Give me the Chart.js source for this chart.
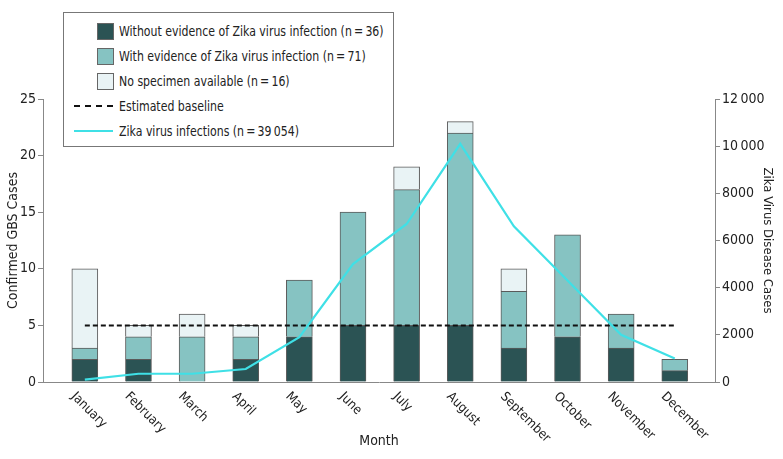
<!DOCTYPE html>
<html>
<head>
<meta charset="utf-8">
<script src="https://cdn.jsdelivr.net/npm/chart.js@4/dist/chart.umd.min.js"></script>
<style>
  body { margin: 0; background: #fff; }
  #wrap { position: relative; width: 783px; height: 459px; }
  #legend {
    position: absolute; left: 63px; top: 12px; width: 329px; height: 133px;
    border: 1px solid #777; background: #fff;
    font-family: "Liberation Sans Narrow", "DejaVu Sans Condensed", sans-serif;
    font-size: 14px; color: #222;
  }
  .row { position: absolute; left: 0; height: 18px; line-height: 18px; }
  .row span.txt { position: absolute; left: 55px; white-space: nowrap; transform: scaleX(0.87); transform-origin: left center; }
  .sw { position: absolute; left: 33px; top: 1px; width: 15px; height: 15px; border: 1px solid #666; }
  .ln { position: absolute; left: 10px; top: 8px; width: 39px; height: 0; }
</style>
</head>
<body>
<div id="wrap">
  <canvas id="chart" width="783" height="459"></canvas>
  <div id="legend"></div>
</div>
<script>
const months = ["January", "February", "March", "April", "May", "June",
    "July", "August", "September", "October", "November", "December"];
const withoutZika = [2, 2, 0, 2, 4, 5, 5, 5, 3, 4, 3, 1];
const withZika = [1, 2, 4, 2, 5, 10, 12, 17, 5, 9, 3, 1];
const noSpecimen = [7, 1, 2, 1, 0, 0, 2, 1, 2, 0, 0, 0];
const baseline = [5, 5, 5, 5, 5, 5, 5, 5, 5, 5, 5, 5];
const zikaCases = [100, 350, 350, 550, 1900, 5000, 6700, 10100, 6600, 4300, 2000, 1000];

const FONT = "'Liberation Sans Narrow', 'DejaVu Sans Condensed', sans-serif";

function pts(arr) {
    return arr.map((v, i) => ({ x: i, y: v }));
}

function barSet(label, data, color) {
    return {
        type: 'bar', label: label, data: pts(data), yAxisID: 'y', stack: 'gbs',
        backgroundColor: color, borderColor: '#5a5a5a', borderWidth: 1,
        barThickness: 26, order: 2
    };
}

const datasets = [
    barSet('Without evidence of Zika virus infection (n\u2009=\u200936)', withoutZika, '#2b5354'),
    barSet('With evidence of Zika virus infection (n\u2009=\u200971)', withZika, '#86c3c2'),
    barSet('No specimen available (n\u2009=\u200916)', noSpecimen, '#e9f3f5'),
    {
        type: 'line', label: 'Estimated baseline', data: pts(baseline), yAxisID: 'y', stack: 'base',
        borderColor: '#111', borderWidth: 2, borderDash: [5, 3], pointRadius: 0, order: 1
    },
    {
        type: 'line', label: 'Zika virus infections (n\u2009=\u200939\u2009054)', data: pts(zikaCases), yAxisID: 'y2',
        stack: 'zika', borderColor: '#3fe0e6', borderWidth: 2.2, pointRadius: 0, tension: 0, order: 0
    }
];

// month labels rotated down-right from each tick
const monthLabels = {
    id: 'monthLabels',
    afterDraw(chart) {
        const ctx = chart.ctx;
        const xs = chart.scales.x;
        ctx.save();
        ctx.font = "13px " + FONT;
        ctx.fillStyle = '#222';
        ctx.textAlign = 'left';
        ctx.textBaseline = 'top';
        months.forEach((m, i) => {
            const px = xs.getPixelForValue(i);
            ctx.save();
            ctx.translate(px - 7, xs.top + 8);
            ctx.rotate(Math.PI / 4);
            ctx.fillText(m, 0, 0);
            ctx.restore();
        });
        ctx.restore();
    }
};

const ctx = document.getElementById('chart').getContext('2d');
new Chart(ctx, {
    data: { labels: months, datasets: datasets },
    options: {
        responsive: false,
        animation: false,
        layout: { padding: { top: 99, left: 0, right: 0, bottom: 0 } },
        plugins: { legend: { display: false }, tooltip: { enabled: false } },
        scales: {
            x: {
                type: 'linear', min: -0.78, max: 11.75, stacked: true, offset: false,
                afterBuildTicks: (s) => { s.ticks = months.map((m, i) => ({ value: i })); },
                afterFit: (s) => { s.height = 77; },
                ticks: { display: false },
                grid: { display: false, offset: false },
                border: { color: '#888', width: 1 },
                title: { display: true, text: 'Month', color: '#222', font: { family: FONT, size: 14 }, padding: { bottom: 9 } }
            },
            y: {
                position: 'left', min: 0, max: 25, stacked: true,
                afterFit: (s) => { s.width = 43; },
                ticks: { stepSize: 5, color: '#222', padding: 2, font: { family: FONT, size: 14 } },
                grid: { drawOnChartArea: false, drawTicks: true, tickLength: 5, color: '#888' },
                border: { color: '#888', width: 1 },
                title: { display: true, text: 'Confirmed GBS Cases', color: '#222', font: { family: FONT, size: 14 }, padding: { top: 5 } }
            },
            y2: {
                position: 'right', min: 0, max: 12000,
                afterFit: (s) => { s.width = 68; },
                ticks: {
                    stepSize: 2000, color: '#222', padding: 2, font: { family: FONT, size: 14 },
                    callback: (v) => v >= 10000 ? Math.floor(v / 1000) + '\u2009' + String(v % 1000).padStart(3, '0') : String(v)
                },
                grid: { drawOnChartArea: false, drawTicks: true, tickLength: 5, color: '#888' },
                border: { color: '#888', width: 1 },
                title: { display: true, text: 'Zika Virus Disease Cases', color: '#222', font: { family: FONT, size: 13 }, padding: { top: 8 } }
            }
        }
    },
    plugins: [monthLabels]
});

// legend built from the datasets
const legend = document.getElementById('legend');
datasets.forEach((ds, r) => {
    const row = document.createElement('div');
    row.className = 'row';
    row.style.top = (9 + r * 25) + 'px';
    row.style.width = '100%';
    let mark;
    if (ds.type === 'bar') {
        mark = '<div class="sw" style="background:' + ds.backgroundColor + '"></div>';
    } else if (ds.borderDash) {
        mark = '<div class="ln" style="border-top:2px dashed ' + ds.borderColor + '"></div>';
    } else {
        mark = '<div class="ln" style="border-top:2px solid ' + ds.borderColor + '"></div>';
    }
    row.innerHTML = mark + '<span class="txt">' + ds.label + '</span>';
    legend.appendChild(row);
});
</script>
</body>
</html>
